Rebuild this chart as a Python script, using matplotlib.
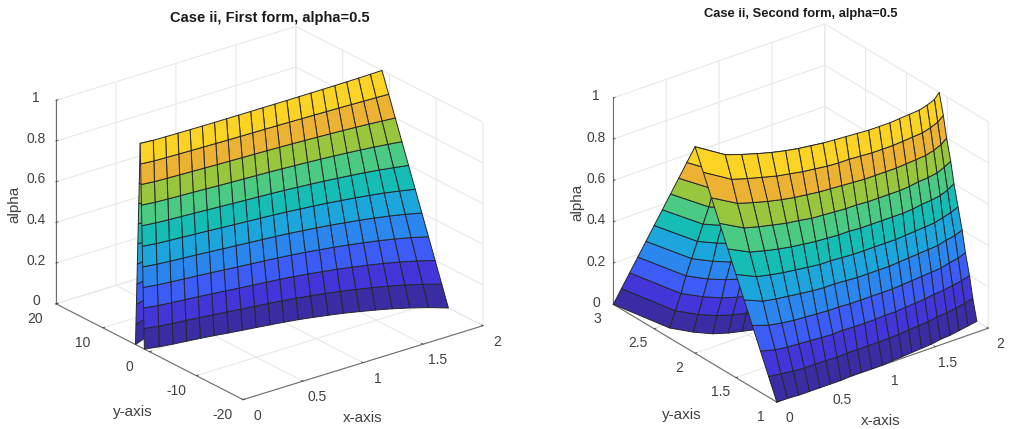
import numpy as np
import matplotlib
matplotlib.use("Agg")
import matplotlib.pyplot as plt
from matplotlib.colors import ListedColormap
from matplotlib.transforms import Affine2D

plt.rcParams['font.family'] = ['Liberation Sans', 'DejaVu Sans']

x_vals = [0, 0.1, 0.2, 0.3, 0.4, 0.5, 0.6, 0.7, 0.8, 0.9, 1, 1.1, 1.2, 1.3, 1.4, 1.5, 1.6, 1.7, 1.8, 1.9, 2]
z_vals = [0, 0.1, 0.2, 0.3, 0.4, 0.5, 0.6, 0.7, 0.8, 0.9, 1]

# y of each column (one line per x), bottom row to top row
left_front = [
	[1.1, 1.19, 1.28, 1.37, 1.46, 1.55, 1.64, 1.73, 1.82, 1.91, 2.0],
	[0.5, 0.63, 0.75, 0.88, 1.0, 1.13, 1.26, 1.38, 1.51, 1.63, 1.76],
	[0.1, 0.26, 0.42, 0.58, 0.74, 0.9, 1.05, 1.21, 1.37, 1.53, 1.69],
	[-0.25, -0.06, 0.13, 0.31, 0.5, 0.69, 0.88, 1.07, 1.25, 1.44, 1.63],
	[-0.6, -0.38, -0.16, 0.05, 0.27, 0.49, 0.71, 0.93, 1.14, 1.36, 1.58],
	[-1, -0.75, -0.49, -0.24, 0.02, 0.27, 0.52, 0.78, 1.03, 1.29, 1.54],
	[-1.45, -1.15, -0.86, -0.56, -0.27, 0.03, 0.33, 0.62, 0.92, 1.21, 1.51],
	[-1.87, -1.53, -1.2, -0.86, -0.53, -0.19, 0.15, 0.48, 0.82, 1.15, 1.49],
	[-2.27, -1.9, -1.52, -1.15, -0.77, -0.4, -0.03, 0.35, 0.72, 1.1, 1.47],
	[-2.68, -2.27, -1.85, -1.44, -1.02, -0.61, -0.2, 0.22, 0.63, 1.05, 1.46],
	[-3.1, -2.65, -2.19, -1.74, -1.28, -0.83, -0.37, 0.09, 0.54, 1.0, 1.45],
	[-3.6, -3.1, -2.59, -2.09, -1.58, -1.08, -0.58, -0.07, 0.43, 0.94, 1.44],
	[-4.2, -3.64, -3.07, -2.51, -1.95, -1.39, -0.82, -0.26, 0.3, 0.87, 1.43],
	[-4.85, -4.22, -3.59, -2.97, -2.34, -1.71, -1.08, -0.45, 0.17, 0.8, 1.43],
	[-5.55, -4.85, -4.15, -3.46, -2.76, -2.06, -1.36, -0.66, 0.03, 0.73, 1.43],
	[-6.4, -5.62, -4.83, -4.05, -3.26, -2.48, -1.7, -0.91, -0.13, 0.66, 1.44],
	[-7.3, -6.43, -5.55, -4.68, -3.8, -2.93, -2.05, -1.18, -0.3, 0.58, 1.45],
	[-8.3, -7.32, -6.35, -5.37, -4.4, -3.42, -2.44, -1.47, -0.49, 0.48, 1.46],
	[-9.5, -8.4, -7.3, -6.2, -5.1, -4.0, -2.91, -1.81, -0.71, 0.39, 1.49],
	[-10.9, -9.66, -8.41, -7.17, -5.93, -4.69, -3.44, -2.2, -0.96, 0.29, 1.53],
	[-12.6, -11.18, -9.76, -8.34, -6.92, -5.5, -4.08, -2.66, -1.24, 0.18, 1.6],
]
# only the sliver at x=0..0.1 shows behind the front sheet
left_back = [
	[3, 2.9, 2.8, 2.7, 2.6, 2.5, 2.4, 2.3, 2.2, 2.1, 2.0],
	[3.8, 3.6, 3.39, 3.19, 2.98, 2.78, 2.58, 2.37, 2.17, 1.96, 1.76],
]
right_front = [
	[1, 1.1, 1.2, 1.3, 1.4, 1.5, 1.6, 1.7, 1.8, 1.9, 2.0],
	[1, 1.08, 1.15, 1.23, 1.3, 1.38, 1.46, 1.53, 1.61, 1.68, 1.76],
	[0.99, 1.06, 1.13, 1.2, 1.27, 1.34, 1.41, 1.48, 1.55, 1.62, 1.69],
	[0.99, 1.05, 1.12, 1.18, 1.25, 1.31, 1.37, 1.44, 1.5, 1.57, 1.63],
	[0.99, 1.05, 1.11, 1.17, 1.23, 1.29, 1.34, 1.4, 1.46, 1.52, 1.58],
	[0.99, 1.05, 1.1, 1.16, 1.21, 1.27, 1.32, 1.38, 1.43, 1.49, 1.54],
	[0.99, 1.04, 1.09, 1.15, 1.2, 1.25, 1.3, 1.35, 1.41, 1.46, 1.51],
	[1, 1.05, 1.1, 1.15, 1.2, 1.25, 1.29, 1.34, 1.39, 1.44, 1.49],
	[1, 1.05, 1.09, 1.14, 1.19, 1.24, 1.28, 1.33, 1.38, 1.42, 1.47],
	[1, 1.05, 1.09, 1.14, 1.18, 1.23, 1.28, 1.32, 1.37, 1.41, 1.46],
	[1, 1.05, 1.09, 1.14, 1.18, 1.23, 1.27, 1.32, 1.36, 1.41, 1.45],
	[1.01, 1.05, 1.1, 1.14, 1.18, 1.23, 1.27, 1.31, 1.35, 1.4, 1.44],
	[1.02, 1.06, 1.1, 1.14, 1.18, 1.23, 1.27, 1.31, 1.35, 1.39, 1.43],
	[1.03, 1.07, 1.11, 1.15, 1.19, 1.23, 1.27, 1.31, 1.35, 1.39, 1.43],
	[1.04, 1.08, 1.12, 1.16, 1.2, 1.24, 1.27, 1.31, 1.35, 1.39, 1.43],
	[1.05, 1.09, 1.13, 1.17, 1.21, 1.25, 1.28, 1.32, 1.36, 1.4, 1.44],
	[1.07, 1.11, 1.15, 1.18, 1.22, 1.26, 1.3, 1.34, 1.37, 1.41, 1.45],
	[1.08, 1.12, 1.16, 1.19, 1.23, 1.27, 1.31, 1.35, 1.38, 1.42, 1.46],
	[1.1, 1.14, 1.18, 1.22, 1.26, 1.3, 1.33, 1.37, 1.41, 1.45, 1.49],
	[1.12, 1.16, 1.2, 1.24, 1.28, 1.33, 1.37, 1.41, 1.45, 1.49, 1.53],
	[1.14, 1.19, 1.23, 1.28, 1.32, 1.37, 1.42, 1.46, 1.51, 1.55, 1.6],
]
right_back = [
	[3, 2.9, 2.8, 2.7, 2.6, 2.5, 2.4, 2.3, 2.2, 2.1, 2.0],
	[2.44, 2.37, 2.3, 2.24, 2.17, 2.1, 2.03, 1.96, 1.9, 1.83, 1.76],
	[2.28, 2.22, 2.16, 2.1, 2.04, 1.99, 1.93, 1.87, 1.81, 1.75, 1.69],
	[2.17, 2.12, 2.06, 2.01, 1.95, 1.9, 1.85, 1.79, 1.74, 1.68, 1.63],
	[2.11, 2.06, 2.0, 1.95, 1.9, 1.85, 1.79, 1.74, 1.69, 1.63, 1.58],
	[2.07, 2.02, 1.96, 1.91, 1.86, 1.81, 1.75, 1.7, 1.65, 1.59, 1.54],
	[2.03, 1.98, 1.93, 1.87, 1.82, 1.77, 1.72, 1.67, 1.61, 1.56, 1.51],
	[2, 1.95, 1.9, 1.85, 1.8, 1.75, 1.69, 1.64, 1.59, 1.54, 1.49],
	[1.98, 1.93, 1.88, 1.83, 1.78, 1.73, 1.67, 1.62, 1.57, 1.52, 1.47],
]

x_ticks = [0, 0.5, 1, 1.5, 2]
x_labels = ['0', '0.5', '1', '1.5', '2']
z_ticks = [0, 0.2, 0.4, 0.6, 0.8, 1]
z_labels = ['0', '0.2', '0.4', '0.6', '0.8', '1']
left_y_ticks = [-20, -10, 0, 10, 20]
left_y_labels = ['-20', '-10', '0', '10', '20']
right_y_ticks = [1, 1.5, 2, 2.5, 3]
right_y_labels = ['1', '1.5', '2', '2.5', '3']

band_colors = ['#3a2da3', '#4336d8', '#3c5cf5', '#2b86ee', '#1ca6dc',
	'#15bdb4', '#4aca82', '#98c63c', '#ecb233', '#fad325']
band_cmap = ListedColormap(band_colors)

W, H = 1009, 429


def sheet(ax, columns, order):
	columns = np.array(columns)
	X, Z = np.meshgrid(x_vals[:len(columns)], z_vals)
	ax.plot_surface(X, columns.T, Z, cmap=band_cmap, vmin=0, vmax=1, rstride=1, cstride=1,
		shade=False, edgecolor='#26262e', linewidth=0.7, zorder=order)


def nudge(text, dx, dy):
	# pixel offset on top of where mplot3d puts the text; Axis3D resets transforms on draw, so block that
	text.set_transform(text.get_transform() + Affine2D().translate(dx, dy))
	text.set_transform = lambda t: None


def put_label(text, px, py, rotation=0):
	fig.text(px / W, 1 - py / H, text, fontsize=11, color='#404040', rotation=rotation, ha='center', va='center')


def panel(rect, title, title_size, y_lim, y_ticks, y_labels, view, aspect, zoom, title_y, tick_shifts, label_spots):
	ax = fig.add_axes(rect, projection='3d', proj_type='ortho', computed_zorder=False)
	ax.view_init(elev=view[0], azim=view[1])
	ax.set_box_aspect(aspect, zoom=zoom)
	ax.patch.set_alpha(0)
	ax.set_xlim(0, 2)
	ax.set_ylim(*y_lim)
	ax.set_zlim(0, 1)
	ax.set_xticks(x_ticks, x_labels)
	ax.set_yticks(y_ticks, y_labels)
	ax.set_zticks(z_ticks, z_labels)
	for axis in (ax.xaxis, ax.yaxis, ax.zaxis):
		axis.set_pane_color((1, 1, 1, 0))
		axis.pane.set_edgecolor('#e2e2e2')
		axis.line.set_color('#6e6e6e')
		axis.line.set_linewidth(0.8)
		axis._axinfo['grid'].update(color='#e8e8e8', linewidth=0.8)
		axis._axinfo['tick'].update(inward_factor=0.0, outward_factor=0.1, linewidth={True: 0.6, False: 0.6})
	ax.tick_params(labelsize=10, colors='#404040', pad=1)
	ax.tick_params(axis='z', pad=-5)
	for axis, shift in zip((ax.xaxis, ax.yaxis, ax.zaxis), tick_shifts):
		for tick in axis.get_major_ticks():
			nudge(tick.label1, *shift)
	put_label('x-axis', *label_spots[0])
	put_label('y-axis', *label_spots[1])
	put_label('alpha', *label_spots[2], rotation=90)
	fig.text(rect[0] + rect[2] * 0.5135, title_y, title, fontsize=title_size, fontweight='bold', color='#1a1a1a', ha='center', va='center')
	return ax


fig = plt.figure(figsize=(W / 100, H / 100), dpi=100)

left_rect = [49.2 / W, -4.3 / H, 429 / W, 429 / H]
ax1 = panel(left_rect, 'Case ii, First form, alpha=0.5', 10.5, (-20, 20), left_y_ticks, left_y_labels,
	(23.4, -127.8), (304, 305.6, 222), 1.096, 1 - 18 / H,
	[(4, 7.5), (-7, 7), (-12, 9)], [(363, 418), (133, 412), (14, 204)])
sheet(ax1, left_back, 1)
sheet(ax1, left_front, 2)

right_rect = [580.5 / W, -4.3 / H, 429 / W, 429 / H]
ax2 = panel(right_rect, 'Case ii, Second form, alpha=0.5', 9.3, (1, 3), right_y_ticks, right_y_labels,
	(27.2, -127.4), (266, 269, 232), 1.005, 1 - 14 / H,
	[(3, 8), (-4, 8), (-10, 8)], [(881, 421), (682, 415), (577, 202)])
sheet(ax2, right_back, 1)
sheet(ax2, right_front, 2)

fig.savefig('out.png', dpi=100)
